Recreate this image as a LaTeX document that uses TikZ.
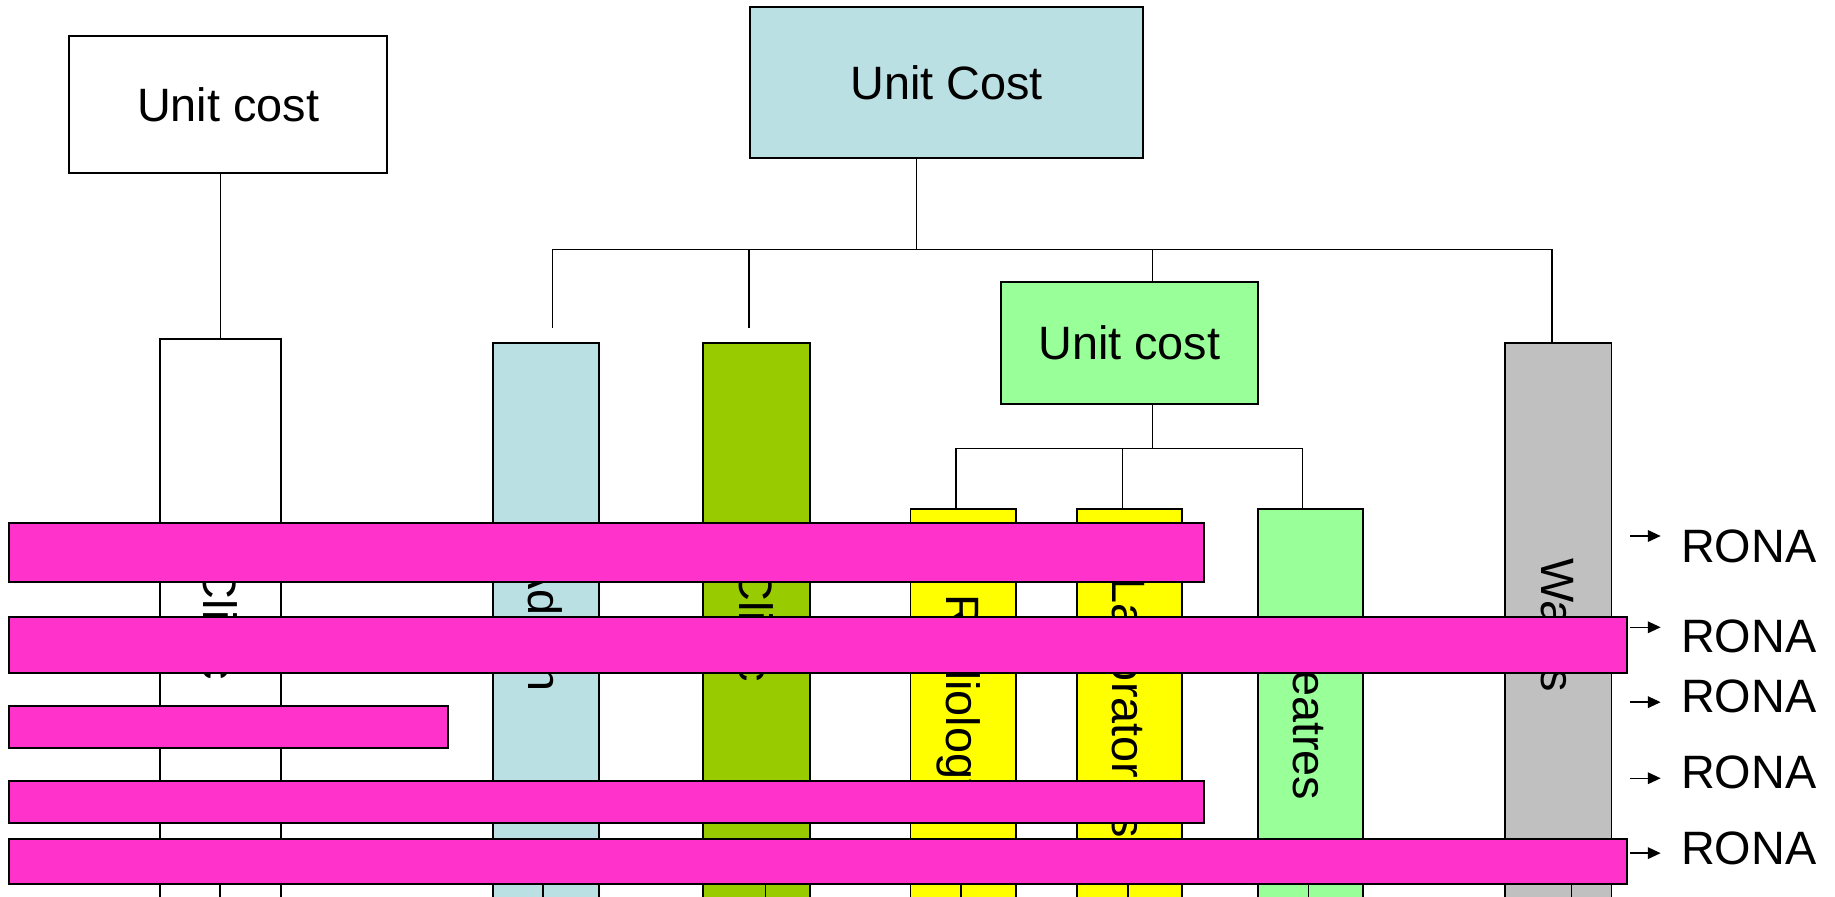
\documentclass[tikz,border=0pt]{standalone}
\usepackage{fontspec}
\setmainfont{Liberation Sans}
\usetikzlibrary{arrows.meta,calc}
\definecolor{costblue}{HTML}{BBE0E3}
\definecolor{clinicgreen}{HTML}{99CC00}
\definecolor{unitgreen}{HTML}{99FF99}
\definecolor{deptyellow}{HTML}{FFFF00}
\definecolor{wardgrey}{HTML}{C0C0C0}
\definecolor{ronapink}{HTML}{FF33CC}
\newcommand{\sidetext}[1]{\rotatebox{-90}{\raisebox{0pt}[\height][0pt]{#1}}}
\tikzset{
  box/.style={draw,line width=0.8pt,inner sep=0pt,font=\fontsize{20}{24}\selectfont},
  column/.style={box,minimum width=45.5pt,minimum height=241pt},
  subcolumn/.style={box,minimum width=45pt,minimum height=170pt},
  pinkbar/.style={draw,line width=0.8pt,fill=ronapink,inner sep=0pt},
  conn/.style={line width=0.6pt},
  ronaarrow/.style={line width=0.6pt,-{Triangle[length=5.5pt,width=5pt]},shorten >=8.5pt},
  ronatext/.style={inner sep=0pt,anchor=west,font=\fontsize{20}{24}\selectfont}
}

\begin{document}
\begin{tikzpicture}[x=0.5pt,y=-0.5pt]
  \useasboundingbox (0,0) rectangle (1568,766);
  \clip (0,0) rectangle (1568,766);
      \draw (195,89.5) node[box,minimum width=136pt,minimum height=58.5pt] (luc) {Unit cost};
  \draw (809,70.5) node[box,fill=costblue,minimum width=168pt,minimum height=64.5pt] (tuc) {Unit Cost};
      \draw (965,293) node[box,fill=unitgreen,minimum width=110pt,minimum height=52pt] (guc) {Unit cost};
  \draw (188.5,532.5) node[column,minimum width=51.5pt,minimum height=242.5pt] (clinA) {\sidetext{Clinic}};
  \draw (466.5,534) node[column,fill=costblue] (admin) {\sidetext{Admin}};
  \draw (646.5,534) node[column,fill=clinicgreen] (clinB) {\sidetext{Clinic}};
      \draw (823,605) node[subcolumn,fill=deptyellow] (radio) {\sidetext{Radiology\hspace{8pt}}};
      \draw (965,605) node[subcolumn,fill=deptyellow] (labs) {\sidetext{Laboratories}};
      \draw (1120,605) node[subcolumn,fill=unitgreen] (theat) {\sidetext{Theatres}};
  \draw (1331.5,534) node[column,fill=wardgrey] (wards) {\sidetext{Wards}};
  \coordinate (bus0) at (783,213);
  \coordinate (bus1) at (472,213);
  \coordinate (bus2) at (640,213);
  \coordinate (bus3) at (985,213);
  \coordinate (bus4) at (1326,213);
  \coordinate (tap1) at (472,280);
  \coordinate (tap2) at (640,280);
  \coordinate (sub0) at (985,383);
  \coordinate (sub1) at (817,383);
  \coordinate (sub2) at (959,383);
  \coordinate (sub3) at (1113,383);
      \draw[conn] (luc.south -| clinA.north) -- (clinA.north);
      \draw[conn] (tuc.south -| bus0) -- (bus0);
      \draw[conn] (bus1) -- (bus4);
      \draw[conn] (bus1) -- (tap1);
      \draw[conn] (bus2) -- (tap2);
      \draw[conn] (bus3) -- (bus3 |- guc.north);
      \draw[conn] (bus4) -- (bus4 |- wards.north);
      \draw[conn] (guc.south -| sub0) -- (sub0);
      \draw[conn] (sub1) -- (sub3);
      \draw[conn] (sub1) -- (sub1 |- radio.north);
      \draw[conn] (sub2) -- (sub2 |- labs.north);
      \draw[conn] (sub3) -- (sub3 |- theat.north);
  \draw (518.5,472) node[pinkbar,minimum width=510.5pt,minimum height=25pt] (bar1) {};
  \draw (699,551) node[pinkbar,minimum width=691pt,minimum height=24pt] (bar2) {};
  \draw (195.5,621) node[pinkbar,minimum width=187.5pt,minimum height=18pt] (bar3) {};
  \draw (518.5,685) node[pinkbar,minimum width=510.5pt,minimum height=18pt] (bar4) {};
  \draw (699,736) node[pinkbar,minimum width=691pt,minimum height=19pt] (bar5) {};
  \foreach \c/\s in {clinA/-0.5,admin/-2.5,clinB/7.5,radio/-2,labs/-1,theat/-2,wards/11.5}
      \draw[conn] ($(\c.south |- bar5.south)+(\s,0)$) -- ($(\c.south)+(\s,0)$);
  \foreach \n/\ay/\ty in {1/458/467,2/536/544,3/600/595,4/665/660,5/729/725} {
    \coordinate (a\n) at (1393,\ay);
    \draw (1436,\ty) node[ronatext] (rona\n) {RONA};
    \draw[ronaarrow] (a\n) -- (a\n -| rona\n.west);
  }
\end{tikzpicture}
\end{document}
